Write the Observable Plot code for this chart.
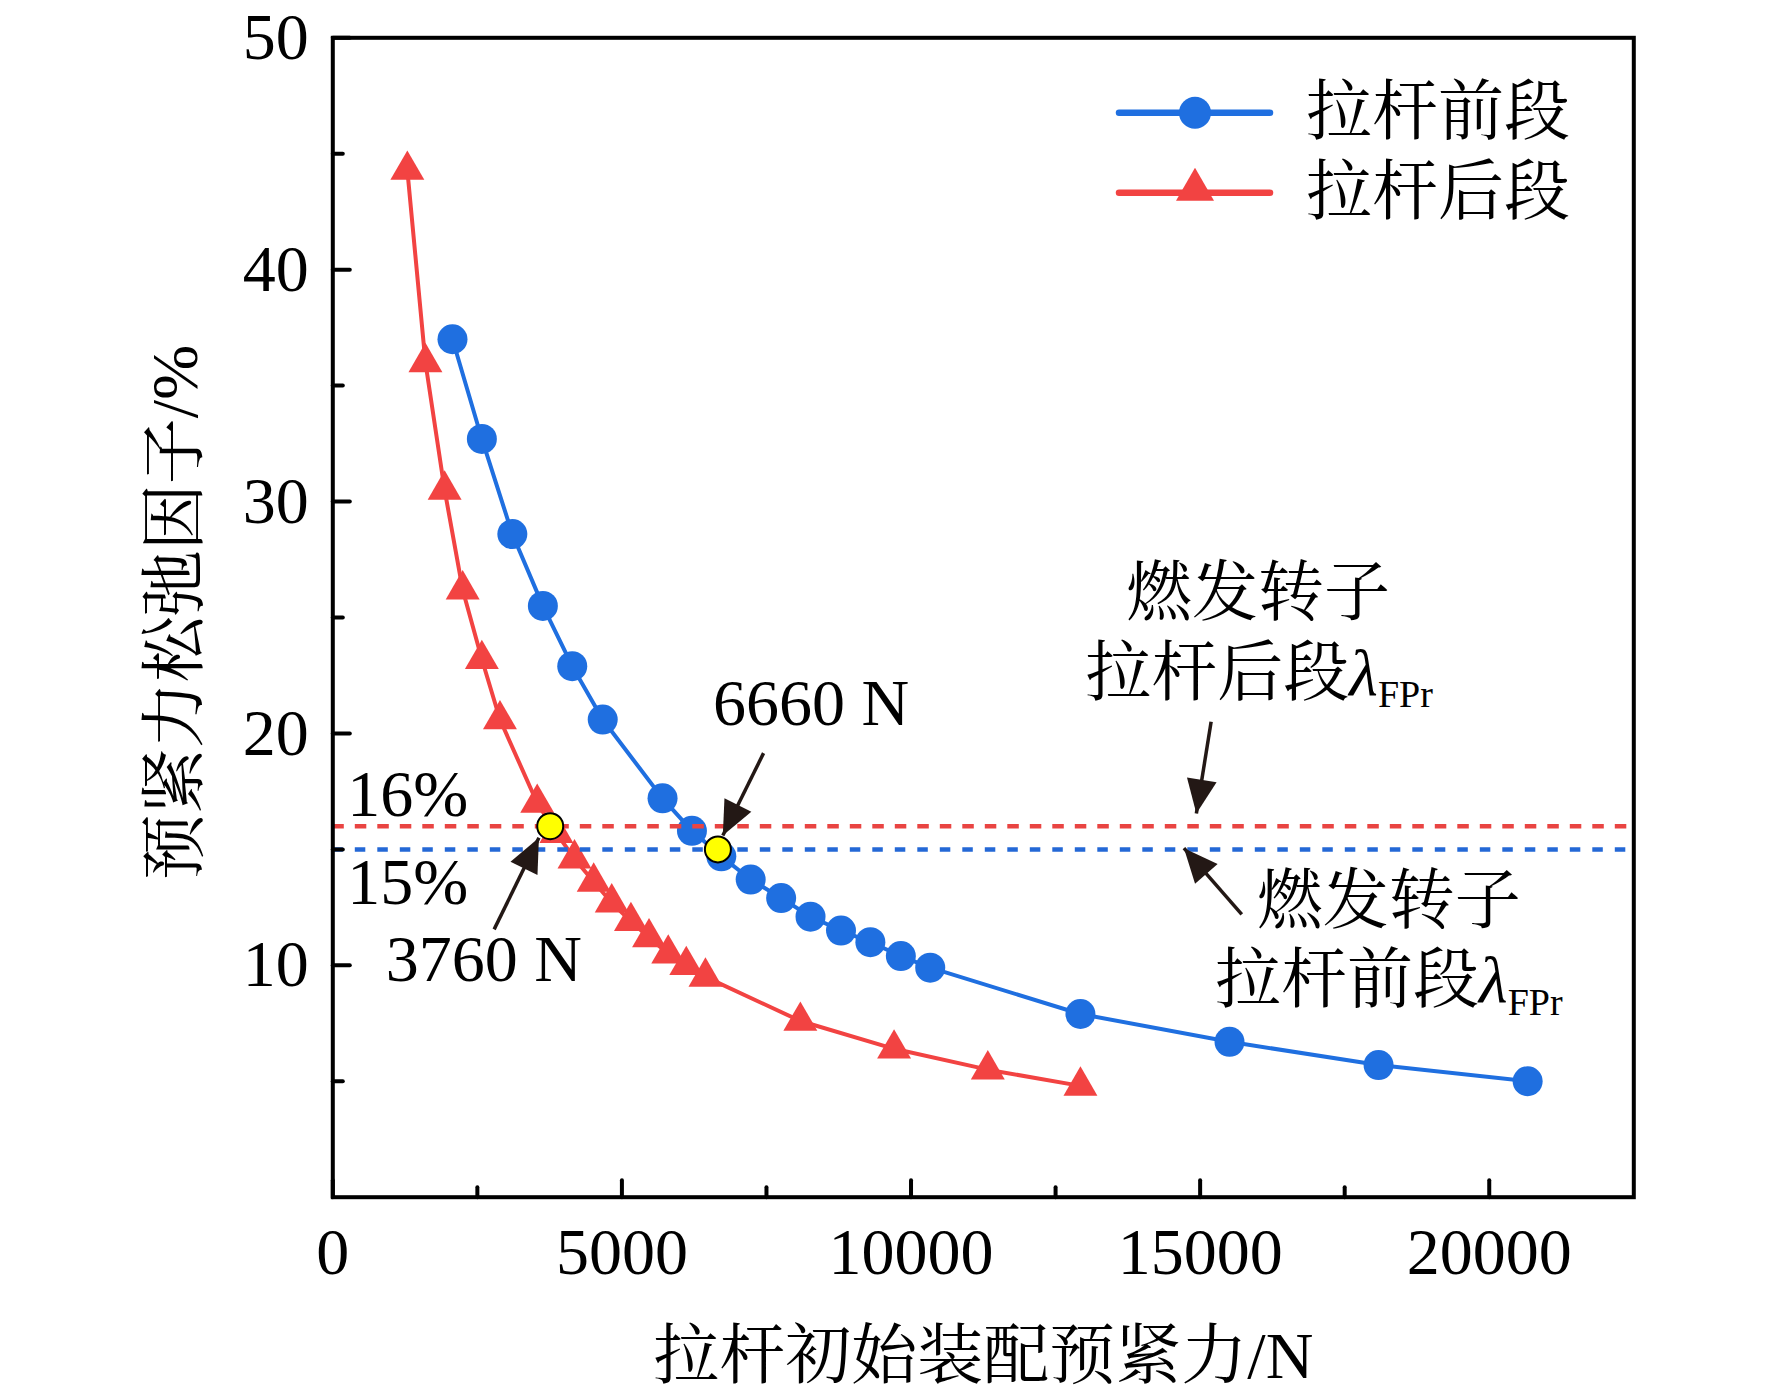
<!DOCTYPE html>
<html>
<head>
<meta charset="utf-8">
<script src="https://cdn.jsdelivr.net/npm/d3@7"></script>
<script src="https://cdn.jsdelivr.net/npm/@observablehq/plot@0.6"></script>
<style>
  html, body { margin: 0; padding: 0; background: #fff; }
  #chart { width: 1772px; height: 1397px; }
</style>
</head>
<body>
<div id="chart"></div>
<script>
// ---------------- data ----------------
const frontX = [2070, 2578, 3105, 3633, 4141, 4668, 5703, 6211, 6719, 7227, 7754, 8262, 8789, 9297, 9824, 10332, 12930, 15508, 18086, 20664];
const frontY = [37.0, 32.7, 28.6, 25.5, 22.9, 20.6, 17.2, 15.8, 14.7, 13.7, 12.9, 12.1, 11.5, 11.0, 10.4, 9.9, 7.9, 6.7, 5.7, 5.0];
const rearX = [1289, 1602, 1934, 2246, 2578, 2891, 3535, 3867, 4180, 4512, 4824, 5156, 5469, 5801, 6113, 6445, 8086, 9707, 11328, 12930];
const rearY = [44.3, 36.0, 30.5, 26.2, 23.2, 20.6, 17.0, 15.7, 14.6, 13.6, 12.7, 11.9, 11.2, 10.5, 10.0, 9.5, 7.6, 6.4, 5.5, 4.8];
const seriesNames = ["拉杆前段", "拉杆后段"];
const thresholdY = [16, 15];            // red, blue dashed lines
const highlightX = [3760, 6660];
const highlightY = [16, 15];
const xMajorTicks = [0, 5000, 10000, 15000, 20000];
const xMinorTicks = [2500, 7500, 12500, 17500];
const yMajorTicks = [10, 20, 30, 40, 50];
const yMinorTicks = [5, 15, 25, 35, 45];
const xTitle = "拉杆初始装配预紧力/N";
const yTitle = "预紧力松弛因子/%";
const noteText = ["16%", "15%", "3760 N", "6660 N", "燃发转子", "拉杆后段λFPr", "燃发转子", "拉杆前段λFPr"];
const noteX = [250, 250, 917, 6576, 16000, 13015, 18263, 15259];
const noteY = [17.35, 13.55, 10.24, 21.27, 26.04, 22.59, 12.72, 9.31];
const noteAnchor = ["start", "start", "start", "start", "middle", "start", "middle", "start"];
const arrowX1 = [15190, 15720, 7450, 2790];
const arrowY1 = [20.5, 12.2, 19.15, 11.55];
const arrowX2 = [14935, 14720, 6745, 3565];
const arrowY2 = [16.55, 15.05, 15.6, 15.5];

// ---------------- styles ----------------
const FONT = "'Liberation Serif', 'Times New Roman', 'Noto Serif CJK SC', 'Noto Sans CJK SC', serif";
const BLUE = "#1f6fe0";
const RED = "#f24342";
const DASH_RED = "#e94442";
const DASH_BLUE = "#2468d6";
const ARROW = "#231815";
const FS = 66;

const front = frontX.map((x, i) => ({x, y: frontY[i]}));
const rear = rearX.map((x, i) => ({x, y: rearY[i]}));
const highlights = highlightX.map((x, i) => ({x, y: highlightY[i]}));
const notes = noteText.map((t, i) => ({text: t, x: noteX[i], y: noteY[i], anchor: noteAnchor[i]}));
const arrows = arrowX1.map((x1, i) => ({x1, y1: arrowY1[i], x2: arrowX2[i], y2: arrowY2[i]}));

const tickShape = {draw(context, l) { context.moveTo(0, 0); context.lineTo(0, -l); }};

const common = {
  width: 1772, height: 1397,
  marginLeft: 332.3, marginRight: 138.7, marginTop: 37.3, marginBottom: 200.3,
  style: {fontFamily: FONT, background: "#fff", color: "#000", overflow: "visible"},
  x: {domain: [0, 22500], label: null},
  y: {domain: [0, 50], label: null}
};

function seriesMarks() {
  return [
    Plot.line(front, {x: "x", y: "y", stroke: BLUE, strokeWidth: 4}),
    Plot.dot(front, {x: "x", y: "y", r: 15, fill: BLUE, stroke: "none"}),
    Plot.line(rear, {x: "x", y: "y", stroke: RED, strokeWidth: 4}),
    Plot.dot(rear, {x: "x", y: "y", r: 12.6, symbol: "triangle", fill: RED, stroke: "none"}),
    Plot.ruleY([thresholdY[0]], {stroke: DASH_RED, strokeWidth: 4.5, strokeDasharray: "11.5,11"}),
    Plot.ruleY([thresholdY[1]], {stroke: DASH_BLUE, strokeWidth: 4.5, strokeDasharray: "10.5,12"})
  ];
}

// first pass: read scales to orient arrowheads in screen space
const base = Plot.plot({...common, marks: seriesMarks()});
const sx = base.scale("x"), sy = base.scale("y");
const fx = d3.scaleLinear(sx.domain, sx.range);
const fy = d3.scaleLinear(sy.domain, sy.range);
arrows.forEach(a => {
  const dx = fx(a.x2) - fx(a.x1), dy = fy(a.y2) - fy(a.y1);
  a.rotate = Math.atan2(dx, -dy) * 180 / Math.PI;
});

const plot = Plot.plot({
  ...common,
  marks: [
    ...seriesMarks(),
    Plot.link(arrows, {x1: "x1", y1: "y1", x2: "x2", y2: "y2", stroke: ARROW, strokeWidth: 3.5, strokeLinecap: "butt"}),
    Plot.vector(arrows, {x: "x2", y: "y2", rotate: "rotate", length: 34, r: 15, shape: "spike", anchor: "end", fill: ARROW, stroke: "none"}),
    Plot.dot(highlights, {x: "x", y: "y", r: 13, fill: "#ffff00", stroke: "#000", strokeWidth: 2}),
    Plot.text(notes.filter(d => d.anchor === "start"), {x: "x", y: "y", text: "text", textAnchor: "start", lineAnchor: "middle", fontSize: FS, fill: "#000", fontFamily: FONT}),
    Plot.text(notes.filter(d => d.anchor === "middle"), {x: "x", y: "y", text: "text", textAnchor: "middle", lineAnchor: "middle", fontSize: FS, fill: "#000", fontFamily: FONT}),
    // ticks (inward)
    Plot.vector(xMajorTicks, {x: d => d, frameAnchor: "bottom", rotate: 0, length: 17, anchor: "start", shape: tickShape, stroke: "#000", strokeWidth: 4, fill: "none"}),
    Plot.vector(xMinorTicks, {x: d => d, frameAnchor: "bottom", rotate: 0, length: 10, anchor: "start", shape: tickShape, stroke: "#000", strokeWidth: 4, fill: "none"}),
    Plot.vector(yMajorTicks, {y: d => d, frameAnchor: "left", rotate: 90, length: 17, anchor: "start", shape: tickShape, stroke: "#000", strokeWidth: 4, fill: "none"}),
    Plot.vector(yMinorTicks, {y: d => d, frameAnchor: "left", rotate: 90, length: 10, anchor: "start", shape: tickShape, stroke: "#000", strokeWidth: 4, fill: "none"}),
    Plot.axisX({ticks: xMajorTicks, tickSize: 0, tickPadding: 30, tickFormat: d => String(d), fontSize: FS, label: null, fontFamily: FONT}),
    Plot.axisY({ticks: yMajorTicks, tickSize: 0, tickPadding: 24, tickFormat: d => String(d), fontSize: FS, label: null, fontFamily: FONT}),
    Plot.text([xTitle], {text: d => d, frameAnchor: "bottom", dy: 160, lineAnchor: "middle", textAnchor: "middle", fontSize: FS, fontFamily: FONT, fill: "#000"}),
    Plot.text([yTitle], {text: d => d, frameAnchor: "left", dx: -157, dy: -5, rotate: -90, lineAnchor: "middle", textAnchor: "middle", fontSize: FS, fontFamily: FONT, fill: "#000"}),
    Plot.frame({stroke: "#000", strokeWidth: 4})
  ]
});

// λ with subscript
d3.select(plot).selectAll("text").each(function () {
  const m = this.textContent.match(/^(.*)(λ)(FPr)$/);
  if (!m) return;
  const s = d3.select(this);
  s.text(null);
  s.append("tspan").text(m[1]);
  s.append("tspan").attr("font-style", "italic").text(m[2]);
  s.append("tspan").attr("font-size", 38).attr("dy", 13).text(m[3]);
});

// legend (inside top-right of the frame)
const lg = d3.select(plot).append("g").attr("font-family", FONT).attr("font-size", FS).attr("text-anchor", "start");
const legendRows = [
  {name: seriesNames[0], color: BLUE, sym: d3.symbolCircle, size: Math.PI * 16 * 16, ly: 112.7, ty: 134},
  {name: seriesNames[1], color: RED, sym: d3.symbolTriangle, size: Math.sqrt(3) / 4 * 38 * 38, ly: 192.7, ty: 214}
];
legendRows.forEach(r => {
  lg.append("line").attr("x1", 1119).attr("x2", 1270).attr("y1", r.ly).attr("y2", r.ly)
    .attr("stroke", r.color).attr("stroke-width", 6.5).attr("stroke-linecap", "round");
  lg.append("path").attr("d", d3.symbol(r.sym, r.size)()).attr("transform", `translate(1195,${r.ly - (r.sym === d3.symbolTriangle ? 3 : 0)})`).attr("fill", r.color);
  lg.append("text").attr("x", 1306).attr("y", r.ty).attr("fill", "#000").attr("text-anchor", "start").text(r.name);
});

document.getElementById("chart").appendChild(plot);
</script>
</body>
</html>
